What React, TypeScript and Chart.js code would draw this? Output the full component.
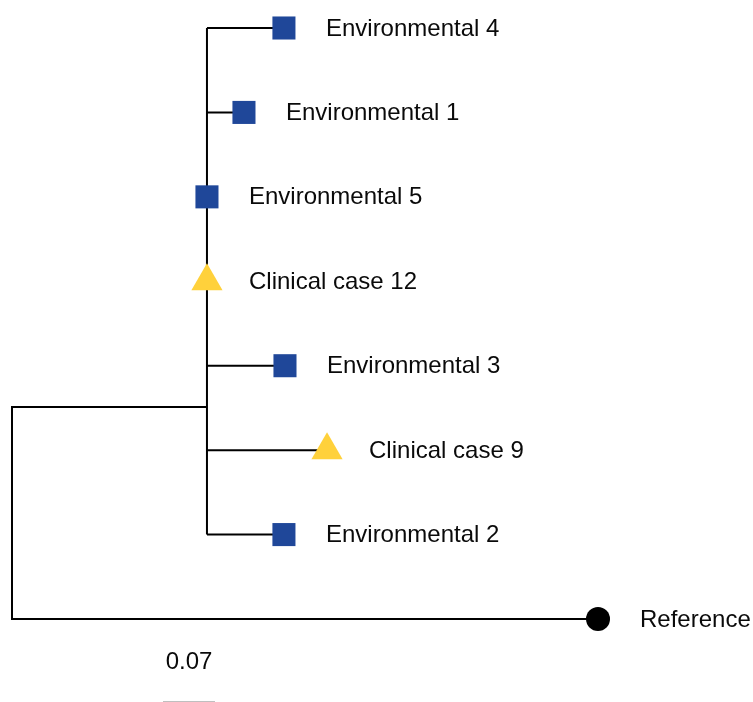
import React, { useEffect, useRef } from 'react';
import { Chart, registerables } from 'chart.js';

Chart.register(...registerables);

// ---- Tree data ----
const leafNames = [
  'Environmental 4',
  'Environmental 1',
  'Environmental 5',
  'Clinical case 12',
  'Environmental 3',
  'Clinical case 9',
  'Environmental 2',
  'Reference',
];
const leafGroups = ['env', 'env', 'env', 'clinical', 'env', 'clinical', 'env', 'reference'];
// distance of each leaf from the root
const leafDepths = [0.366, 0.3122, 0.2624, 0.2624, 0.3674, 0.424, 0.366, 0.7887];
const leafRows = [0, 1, 2, 3, 4, 5, 6, 7];
// leaves (indices) that belong to the inner clade
const cladeMembers = [0, 1, 2, 3, 4, 5, 6];
const cladeDepth = 0.2624;
const cladeRow = 4.49;
const rootDepth = 0;
const outgroupIndex = 7;

const scaleBarStart = 0.2032;
const scaleBarLength = 0.07;
const scaleBarRow = 7.992;
const scaleBarLabelRow = 7.503;

const groupColors: Record<string, string> = {
  env: '#1f4799',
  clinical: '#ffd13b',
  reference: '#000000',
};
const groupShapes: Record<string, string> = {
  env: 'rect',
  clinical: 'triangle',
  reference: 'circle',
};
const groupRadius: Record<string, number> = {
  env: 16.3,
  clinical: 18,
  reference: 12,
};

const FONT = '"Liberation Sans", Arial, Helvetica, sans-serif';

export default function App() {
  const ref = useRef<HTMLCanvasElement | null>(null);

  useEffect(() => {
    document.body.style.margin = '0';
    document.body.style.overflow = 'hidden';
    const canvas = ref.current;
    if (!canvas) return;

    const lineStyle = {
      showLine: true,
      borderColor: '#000000',
      borderWidth: 2,
      pointRadius: 0,
      pointHoverRadius: 0,
      fill: false,
      tension: 0,
      borderJoinStyle: 'miter' as const,
      borderCapStyle: 'butt' as const,
      clip: false as any,
      order: 2,
    };

    const edges: any[] = [];
    // root polyline: clade node -> root -> outgroup
    edges.push({
      ...lineStyle,
      data: [
        { x: cladeDepth, y: cladeRow },
        { x: rootDepth, y: cladeRow },
        { x: rootDepth, y: leafRows[outgroupIndex] },
        { x: leafDepths[outgroupIndex], y: leafRows[outgroupIndex] },
      ],
    });
    // clade vertical
    const firstRow = leafRows[cladeMembers[0]];
    const lastRow = leafRows[cladeMembers[cladeMembers.length - 1]];
    edges.push({
      ...lineStyle,
      data: [
        { x: cladeDepth, y: firstRow },
        { x: cladeDepth, y: lastRow },
      ],
    });
    // clade leaf branches
    cladeMembers.forEach((i) => {
      if (leafDepths[i] > cladeDepth) {
        edges.push({
          ...lineStyle,
          data: [
            { x: cladeDepth, y: leafRows[i] },
            { x: leafDepths[i], y: leafRows[i] },
          ],
        });
      }
    });

    const markers = {
      showLine: false,
      data: leafNames.map((_, i) => ({ x: leafDepths[i], y: leafRows[i] })),
      pointStyle: leafGroups.map((g) => groupShapes[g]) as any,
      pointRadius: leafGroups.map((g) => groupRadius[g]),
      pointHoverRadius: leafGroups.map((g) => groupRadius[g]),
      pointBackgroundColor: leafGroups.map((g) => groupColors[g]),
      pointBorderWidth: 0,
      pointBorderColor: leafGroups.map((g) => groupColors[g]),
      clip: false as any,
      order: 0,
    };

    const labelPlugin = {
      id: 'treeLabels',
      afterDatasetsDraw(chart: any) {
        const ctx = chart.ctx as CanvasRenderingContext2D;
        const meta = chart.getDatasetMeta(chart.data.datasets.length - 1);
        ctx.save();
        ctx.fillStyle = '#0a0a0a';
        ctx.font = `24px ${FONT}`;
        ctx.textBaseline = 'middle';
        ctx.textAlign = 'left';
        meta.data.forEach((el: any, i: number) => {
          ctx.fillText(leafNames[i], el.x + 42, el.y + 1);
        });
        // scale bar
        const xs = chart.scales.x;
        const ys = chart.scales.y;
        const x0 = xs.getPixelForValue(scaleBarStart);
        const x1 = xs.getPixelForValue(scaleBarStart + scaleBarLength);
        const yb = ys.getPixelForValue(scaleBarRow);
        ctx.textAlign = 'center';
        ctx.fillText(scaleBarLength.toFixed(2), (x0 + x1) / 2, ys.getPixelForValue(scaleBarLabelRow) + 1);
        ctx.strokeStyle = '#000000';
        ctx.lineWidth = 2;
        ctx.beginPath();
        ctx.moveTo(x0, yb);
        ctx.lineTo(x1, yb);
        ctx.stroke();
        ctx.restore();
      },
    };

    const chart = new Chart(canvas, {
      type: 'scatter',
      data: { datasets: [...edges, markers] },
      options: {
        animation: false,
        responsive: true,
        maintainAspectRatio: false,
        events: [],
        layout: { padding: 0, autoPadding: false },
        plugins: {
          legend: { display: false },
          tooltip: { enabled: false },
        },
        scales: {
          x: { type: 'linear', display: false, min: -0.01615, max: 0.9973 },
          y: { type: 'linear', display: false, min: -0.3316, max: 7.983, reverse: true },
        },
      },
      plugins: [labelPlugin],
    });

    return () => chart.destroy();
  }, []);

  return (
    <div style={{ position: 'relative', width: 753, height: 702 }}>
      <canvas ref={ref} />
    </div>
  );
}
